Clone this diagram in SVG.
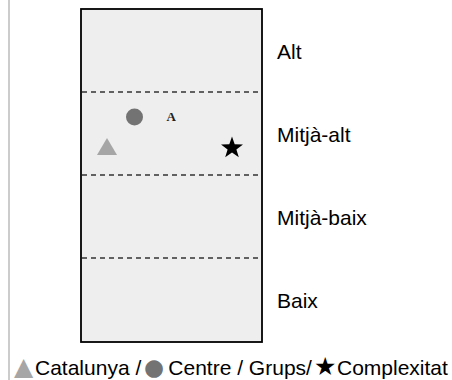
<svg xmlns="http://www.w3.org/2000/svg" width="452" height="380" viewBox="0 0 452 380">
<style>
.lbl{font-family:"Liberation Sans",Arial,sans-serif;font-size:21px;fill:#000}
.dash{stroke:#333;stroke-width:1.3;stroke-dasharray:5 4;fill:none}
.sym{font-family:"DejaVu Sans",sans-serif}
</style>
<rect width="452" height="380" fill="#fff"/>
<line x1="9" y1="0" x2="9" y2="380" stroke="#bbb" stroke-width="1.5"/>
<g id="chart">
<rect x="81" y="9" width="181" height="333" fill="#eee" stroke="#000" stroke-width="1.8"/>
</g>
<g id="connectors">
<line class="dash" x1="82" y1="92" x2="261" y2="92"/>
<line class="dash" x1="82" y1="175" x2="261" y2="175"/>
<line class="dash" x1="82" y1="258" x2="261" y2="258"/>
</g>
<g id="level-alt"><text class="lbl" x="277" y="59">Alt</text></g>
<g id="level-mitja-alt"><text class="lbl" x="277" y="142">Mitjà-alt</text></g>
<g id="level-mitja-baix"><text class="lbl" x="277" y="225">Mitjà-baix</text></g>
<g id="level-baix"><text class="lbl" x="277" y="308">Baix</text></g>
<g id="centre"><circle cx="134.5" cy="117" r="8.5" fill="#737373"/></g>
<g id="grup-a"><text x="166.5" y="121" font-family="'Liberation Serif',serif" font-size="13" font-weight="bold" fill="#222">A</text></g>
<g id="catalunya"><polygon points="107,138 117,155 97,155" fill="#a6a6a6"/></g>
<g id="complexitat"><polygon points="232,136.5 234.7,144.3 243,144.5 236.4,149.5 238.8,157.3 232,152.6 225.2,157.3 227.6,149.5 221,144.5 229.3,144.3" fill="#000"/></g>
<g id="legend">
<text class="lbl" x="14" y="374.5"><tspan class="sym" fill="#a6a6a6" font-size="25">▲</tspan><tspan x="35" y="375">Catalunya /</tspan><tspan class="sym" x="144" y="374.5" fill="#737373" font-size="23">●</tspan><tspan x="162.5" y="375"> Centre / Grups/</tspan><tspan class="sym" x="314" y="374.5" font-size="25">★</tspan><tspan x="337" y="375">Complexitat</tspan></text>
</g>
</svg>
